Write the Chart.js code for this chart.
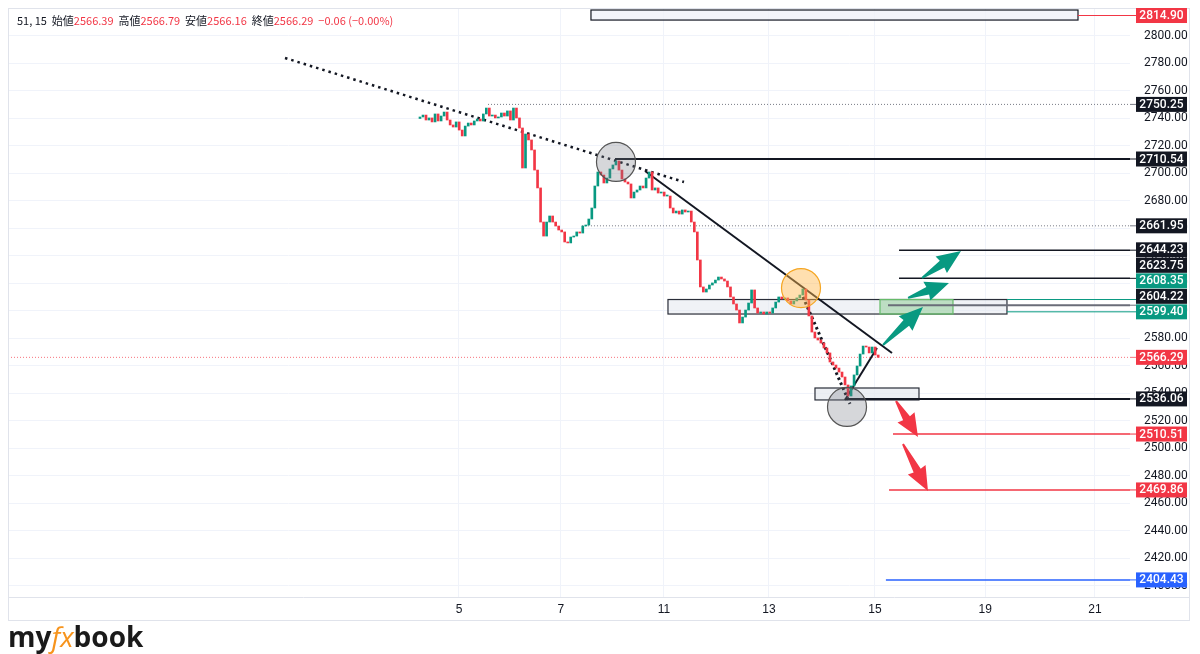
<!DOCTYPE html>
<html>
<head>
<meta charset="utf-8">
<script src="https://cdn.jsdelivr.net/npm/chart.js@4.4.1/dist/chart.umd.min.js"></script>
<style>
  html, body { margin: 0; padding: 0; background: #fff; }
</style>
</head>
<body>
<canvas id="chart" width="1200" height="654"></canvas>
<script>
// gold 15m chart, condensed to ~80 minute bars (x unit = trading days from the 5th)
const barStart = -0.75;
const barStep = 80 / 1380;
const firstOpen = 2740.0;
const closes = [
  2741.1, 2742.5, 2738.9, 2740.4, 2737.5, 2743.3, 2738.2, 2741.8, 2744.7, 2738.9,
  2735.3, 2733.8, 2737.5, 2731.6, 2727.3, 2734.5, 2736.7, 2735.3, 2738.2, 2739.6,
  2738.2, 2743.3, 2747.6, 2741.8, 2742.5, 2740.4, 2741.1, 2744.0, 2741.8, 2745.5,
  2738.9, 2747.6, 2740.4, 2733.1, 2704.0, 2728.7, 2724.4, 2717.1, 2702.5, 2689.5,
  2664.7, 2654.5, 2664.7, 2669.1, 2664.7, 2661.8, 2658.9, 2657.5, 2650.2, 2649.5,
  2653.8, 2654.5, 2657.5, 2656.7, 2661.8, 2662.5, 2666.9, 2674.9, 2690.9, 2701.1,
  2698.9, 2693.1, 2696.7, 2703.3, 2706.2, 2709.1, 2702.5, 2696.0, 2693.8, 2692.4,
  2682.2, 2686.5, 2688.0, 2690.9, 2689.5, 2696.7, 2701.1, 2688.0, 2689.5, 2685.8,
  2686.5, 2683.6, 2683.6, 2674.9, 2671.3, 2672.7, 2670.5, 2673.5, 2672.0, 2672.7,
  2664.7, 2657.5, 2637.1, 2617.5, 2613.8, 2616.0, 2618.9, 2620.4, 2622.5, 2624.7,
  2623.3, 2621.8, 2617.5, 2610.2, 2605.1, 2600.7, 2591.3, 2595.6, 2600.7, 2605.8,
  2615.3, 2602.2, 2598.5, 2599.3, 2597.8, 2599.3, 2598.5, 2602.2, 2606.5, 2610.2,
  2608.7, 2609.5, 2607.3, 2605.1, 2607.3, 2609.5, 2611.6, 2616.0, 2608.0, 2596.4,
  2584.7, 2580.4, 2578.9, 2576.7, 2573.1, 2569.5, 2562.9, 2560.7, 2558.5, 2555.6,
  2552.0, 2546.2, 2538.2, 2545.5, 2553.5, 2560.0, 2568.7, 2574.5, 2573.8, 2569.5,
  2573.8, 2568.0, 2566.29
];

const dayTicks = [0, 1.96, 3.94, 5.96, 8.0, 10.12, 12.23];
const dayLabels = ['5', '7', '11', '13', '15', '19', '21'];
const priceTicks = [2400, 2420, 2440, 2460, 2480, 2500, 2520, 2540, 2560, 2580, 2600,
  2620, 2640, 2660, 2680, 2700, 2720, 2740, 2760, 2780, 2800];
const xMin = -8.673, xMax = 12.904;
const yMin = 2392.0, yMax = 2820.36;

// horizontal levels: price and where the line starts
const levelPrices = [2814.90, 2750.25, 2710.54, 2661.95, 2644.23, 2623.75, 2608.35,
  2604.22, 2599.40, 2566.29, 2536.06, 2510.51, 2469.86, 2404.43];
const levelStarts = [11.9, 0.558, 3.0, 2.365, 8.462, 8.462, 10.54,
  8.25, 10.54, xMin, 7.42, 8.346, 8.27, 8.21];

// drawn trend lines
const trendFrom = [[-3.346, 2784.0], [3.577, 2701.8], [6.615, 2610.2], [7.423, 2535.3]];
const trendTo = [[4.327, 2693.8], [8.327, 2569.5], [7.519, 2532.4], [8.038, 2573.1]];

// rectangles [x0, x1, top, bottom]
const boxes = [[2.538, 11.904, 2818.9, 2811.6], [4.019, 10.538, 2608.35, 2597.8],
  [8.096, 9.5, 2608.35, 2597.8], [6.846, 8.846, 2544.0, 2535.3]];
const circleCenters = [[3.019, 2708.4], [6.577, 2616.7], [7.462, 2530.2]];

const arrowTails = [[8.154, 2575.3], [8.635, 2609.5], [8.904, 2624.0], [8.404, 2534.5], [8.538, 2503.3]];
const arrowTips = [[8.923, 2602.9], [9.423, 2620.4], [9.654, 2643.6], [8.827, 2508.4], [9.019, 2469.1]];

// styles
const UP = '#089981', DOWN = '#f23645', INK = '#131722', BLUE = '#2962ff';
const levelStyle = [
  { c: DOWN, w: 1 }, { c: '#787b86', w: 1, dash: [1, 2] }, { c: INK, w: 2 },
  { c: '#787b86', w: 1, dash: [1, 2] }, { c: INK, w: 1.5 }, { c: INK, w: 1.5 },
  { c: UP, w: 1 }, { c: '#6a6d78', w: 2 }, { c: UP, w: 1 },
  { c: 'rgba(242,54,69,0.7)', w: 1, dash: [1, 2] }, { c: INK, w: 2 },
  { c: DOWN, w: 1.5 }, { c: DOWN, w: 1.5 }, { c: BLUE, w: 1.5 }
];
const badgeBg = [DOWN, INK, INK, INK, INK, INK, UP, INK, UP, DOWN, INK, DOWN, DOWN, BLUE];
const trendStyle = [
  { w: 2.5, dash: [2.5, 4] }, { w: 2 }, { w: 3, dash: [2.5, 3] }, { w: 2 }
];
const boxStyle = [
  { fill: 'rgba(240,243,250,0.8)', stroke: INK }, { fill: 'rgba(228,232,238,0.55)', stroke: '#2a2e39' },
  { fill: 'rgba(129,199,132,0.45)', stroke: '#66bb6a' }, { fill: 'rgba(228,232,238,0.7)', stroke: '#2a2e39' }
];
const circleStyle = [
  { fill: 'rgba(120,123,134,0.3)', stroke: '#555' }, { fill: 'rgba(255,183,77,0.45)', stroke: '#f5a623' },
  { fill: 'rgba(120,123,134,0.3)', stroke: '#555' }
];
const arrowColor = [UP, UP, UP, DOWN, DOWN];

const candleData = closes.map((c, i) => ({
  x: barStart + i * barStep,
  y: [i ? closes[i - 1] : firstOpen, c]
}));
const candleColors = candleData.map(d => d.y[1] >= d.y[0] ? UP : DOWN);

const datasets = [{
  type: 'bar',
  data: candleData,
  backgroundColor: candleColors,
  borderWidth: 0,
  barThickness: 2,
  minBarLength: 1,
  order: 0
}];

levelPrices.forEach((p, i) => {
  const s = levelStyle[i];
  datasets.push({
    type: 'line',
    data: [{ x: levelStarts[i], y: p }, { x: xMax, y: p }],
    borderColor: s.c, borderWidth: s.w, borderDash: s.dash || [],
    pointRadius: 0, order: 2
  });
});
trendFrom.forEach((a, i) => {
  const s = trendStyle[i];
  datasets.push({
    type: 'line',
    data: [{ x: a[0], y: a[1] }, { x: trendTo[i][0], y: trendTo[i][1] }],
    borderColor: INK, borderWidth: s.w, borderDash: s.dash || [],
    pointRadius: 0, order: 1
  });
});

function drawArrow(ctx, x0, y0, x1, y1, color) {
  const dx = x1 - x0, dy = y1 - y0, L = Math.hypot(dx, dy);
  const ux = dx / L, uy = dy / L, nx = -uy, ny = ux;
  const hl = Math.min(20, L * 0.45), hw = 10, s0 = 1, s1 = 4;
  const bx = x1 - ux * hl, by = y1 - uy * hl;
  ctx.fillStyle = color;
  ctx.beginPath();
  ctx.moveTo(x0 + nx * s0, y0 + ny * s0);
  ctx.lineTo(bx + nx * s1 - ux * 3, by + ny * s1 - uy * 3);
  ctx.lineTo(bx + nx * hw - ux * 4, by + ny * hw - uy * 4);
  ctx.lineTo(x1, y1);
  ctx.lineTo(bx - nx * hw - ux * 4, by - ny * hw - uy * 4);
  ctx.lineTo(bx - nx * s1 - ux * 3, by - ny * s1 - uy * 3);
  ctx.lineTo(x0 - nx * s0, y0 - ny * s0);
  ctx.closePath();
  ctx.fill();
}

function noScalePadding(s) {
  s.paddingTop = 0; s.paddingBottom = 0; s.paddingLeft = 0; s.paddingRight = 0;
}

const drawings = {
  id: 'drawings',
  beforeDatasetsDraw(chart) {
    const { ctx, scales: { x, y }, chartArea: a } = chart;
    ctx.save();
    ctx.beginPath(); ctx.rect(a.left, a.top, a.right - a.left, a.bottom - a.top); ctx.clip();
    boxes.forEach((b, i) => {
      const x0 = x.getPixelForValue(b[0]), x1 = x.getPixelForValue(b[1]);
      const y0 = y.getPixelForValue(b[2]), y1 = y.getPixelForValue(b[3]);
      ctx.fillStyle = boxStyle[i].fill;
      ctx.fillRect(x0, y0, x1 - x0, y1 - y0);
      ctx.strokeStyle = boxStyle[i].stroke; ctx.lineWidth = 1.2;
      ctx.strokeRect(x0, y0, x1 - x0, y1 - y0);
    });
    ctx.restore();
  },
  afterDatasetsDraw(chart) {
    const { ctx, scales: { x, y } } = chart;
    ctx.save();
    circleCenters.forEach((c, i) => {
      ctx.beginPath();
      ctx.arc(x.getPixelForValue(c[0]), y.getPixelForValue(c[1]), 19.5, 0, Math.PI * 2);
      ctx.fillStyle = circleStyle[i].fill; ctx.fill();
      ctx.strokeStyle = circleStyle[i].stroke; ctx.lineWidth = 1.2; ctx.stroke();
    });
    arrowTails.forEach((t, i) => {
      drawArrow(ctx, x.getPixelForValue(t[0]), y.getPixelForValue(t[1]),
        x.getPixelForValue(arrowTips[i][0]), y.getPixelForValue(arrowTips[i][1]), arrowColor[i]);
    });
    ctx.restore();
  },
  afterDraw(chart) {
    const { ctx, scales: { y }, chartArea: a } = chart;
    ctx.save();
    // frame
    ctx.strokeStyle = '#e0e3eb'; ctx.lineWidth = 1;
    ctx.strokeRect(8.5, 8.5, 1181, 612);
    ctx.beginPath(); ctx.moveTo(8, a.bottom + 0.5); ctx.lineTo(1190, a.bottom + 0.5); ctx.stroke();

    // price badges, pushed apart from the bottom up
    const h = 15.5;
    const order = levelPrices.map((p, i) => ({ i, py: y.getPixelForValue(p) })).sort((m, n) => n.py - m.py);
    let prev = Infinity;
    order.forEach(o => { o.by = Math.min(o.py, prev - h); prev = o.by; });
    ctx.font = '500 12px Roboto';
    ctx.textAlign = 'center'; ctx.textBaseline = 'middle';
    order.forEach(o => {
      ctx.strokeStyle = levelStyle[o.i].c; ctx.lineWidth = 1; ctx.setLineDash([]);
      ctx.beginPath(); ctx.moveTo(a.right, o.py); ctx.lineTo(a.right + 6, o.py); ctx.stroke();
      ctx.fillStyle = badgeBg[o.i];
      ctx.fillRect(a.right + 6, o.by - 7.5, 51, 15);
      ctx.fillStyle = '#fff';
      ctx.fillText(levelPrices[o.i].toFixed(2), a.right + 31.5, o.by + 0.5);
    });

    // legend header
    const parts = [['51, 15  ', INK], ['始値', INK], ['2566.39', DOWN], ['  高値', INK], ['2566.79', DOWN],
      ['  安値', INK], ['2566.16', DOWN], ['  終値', INK], ['2566.29', DOWN], ['  −0.06 (−0.00%)', DOWN]];
    ctx.font = '11px "Noto Sans CJK JP"';
    ctx.textAlign = 'left'; ctx.textBaseline = 'middle';
    let tx = 17;
    parts.forEach(([t, c]) => { ctx.fillStyle = c; ctx.fillText(t, tx, 21); tx += ctx.measureText(t).width; });

    // myfxbook logo
    ctx.textBaseline = 'alphabetic';
    ctx.font = 'bold 28px "Open Sans"';
    ctx.fillStyle = '#1a1a1a';
    let lx = 8;
    ctx.fillText('my', lx, 647); lx += ctx.measureText('my').width;
    ctx.font = 'italic 28px "Open Sans"';
    ctx.fillStyle = '#f7941d';
    ctx.fillText('fx', lx, 647); lx += ctx.measureText('fx').width;
    ctx.font = 'bold 28px "Open Sans"';
    ctx.fillStyle = '#1a1a1a';
    ctx.fillText('book', lx, 647);
    ctx.restore();
  }
};

new Chart(document.getElementById('chart'), {
  data: { datasets },
  options: {
    responsive: false,
    animation: false,
    events: [],
    layout: { padding: { left: 8, top: 8, right: 10, bottom: 33 } },
    plugins: { legend: { display: false }, tooltip: { enabled: false } },
    scales: {
      x: {
        type: 'linear', min: xMin, max: xMax, offset: false,
        afterBuildTicks: s => { s.ticks = dayTicks.map(v => ({ value: v })); },
        afterFit: s => { s.height = 24; noScalePadding(s); },
        grid: { color: '#f0f3fa', drawTicks: false, offset: false },
        border: { display: false },
        ticks: {
          padding: 5, color: INK, font: { size: 12, family: 'Liberation Sans' },
          callback: (v, i) => dayLabels[i], maxRotation: 0, autoSkip: false
        }
      },
      y: {
        type: 'linear', position: 'right', min: yMin, max: yMax,
        afterBuildTicks: s => { s.ticks = priceTicks.map(v => ({ value: v })); },
        afterFit: s => { s.width = 60; noScalePadding(s); },
        grid: { color: '#f0f3fa', drawTicks: false },
        border: { display: false },
        ticks: {
          padding: 14, color: INK, font: { size: 12, family: 'Roboto' },
          callback: v => v.toFixed(2)
        }
      }
    }
  },
  plugins: [drawings]
});
</script>
</body>
</html>
